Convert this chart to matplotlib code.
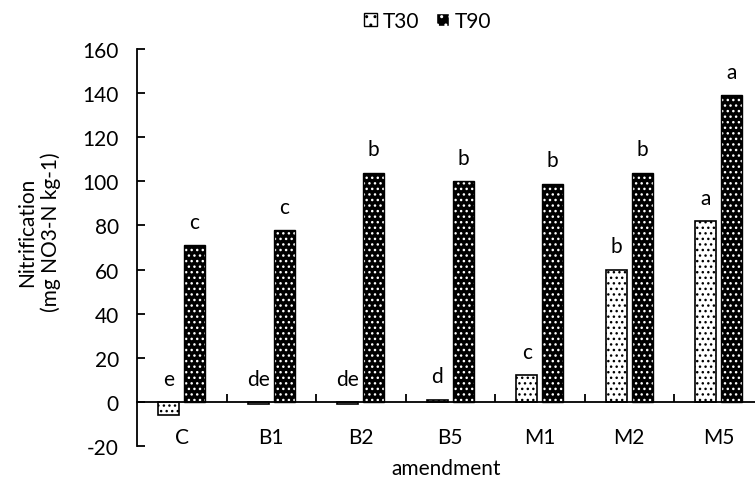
import numpy as np
import matplotlib.pyplot as plt
from matplotlib.patches import Patch

plt.rcParams['font.family'] = ['Lato', 'DejaVu Sans']
plt.rcParams['axes.unicode_minus'] = False
plt.rcParams['hatch.linewidth'] = 1.0

amend = ['C', 'B1', 'B2', 'B5', 'M1', 'M2', 'M5']
t30 = [-6, -1, -1, 1, 12, 60, 82]
t90 = [71, 78, 104, 100, 99, 104, 139]
let30 = ['e', 'de', 'de', 'd', 'c', 'b', 'a']
let90 = ['c', 'c', 'b', 'b', 'b', 'b', 'a']

fs = 15

fig = plt.figure(figsize=(7.55, 4.81), dpi=100)
ax = fig.add_axes([137/755, 34/481, 626.5/755, 397/481])

x = np.arange(len(amend))
w = 0.235
off = 0.143

# T30: white with black dots
ax.bar(x - off, t30, w, color='white', edgecolor='black', hatch='...', lw=1.2, zorder=2)
# T90: black with white dots, outline drawn separately
ax.bar(x + off, t90, w, color='black', edgecolor='white', hatch='...', lw=0, zorder=2)
ax.bar(x + off, t90, w, color='none', edgecolor='black', lw=1.0, zorder=3)

for i in range(len(amend)):
    ax.text(x[i] - off, max(t30[i], 0) + 7.8, let30[i], ha='center', va='baseline', fontsize=fs)
    ax.text(x[i] + off, max(t90[i], 0) + 7.8, let90[i], ha='center', va='baseline', fontsize=fs)

ax.set_xlim(-0.5, 6.5)
ax.set_ylim(-20, 160)
ax.set_yticks(np.arange(-20, 161, 20))
ax.set_xticks(x)
ax.set_xticklabels(amend)
ax.set_xticks(np.arange(0.5, 6.6, 1), minor=True)

ax.spines['top'].set_visible(False)
ax.spines['right'].set_visible(False)
ax.spines['bottom'].set_position(('data', 0))
ax.spines['left'].set_linewidth(1.3)
ax.spines['bottom'].set_linewidth(1.3)

ax.tick_params(axis='y', direction='in', length=6, width=1.3, pad=13, labelsize=fs)
ax.tick_params(axis='x', which='major', length=0, pad=18, labelsize=fs)
ax.tick_params(axis='x', which='minor', direction='in', length=6, width=1.3)

ax.set_ylabel('Nitrification\n(mg NO3-N kg-1)', fontsize=fs, linespacing=1.2)
ax.yaxis.set_label_coords(-0.122, 0.54)
ax.set_xlabel('amendment', fontsize=fs)
ax.xaxis.set_label_coords(0.493, -0.03)

handles = [Patch(facecolor='white', edgecolor='black', hatch='..', label='T30'),
           Patch(facecolor='black', edgecolor='white', hatch='..', label='T90')]
fig.legend(handles=handles, loc='center', bbox_to_anchor=(428/755, 1 - 22/481), ncol=2,
           frameon=False, fontsize=fs, handlelength=0.6, handleheight=0.6,
           handletextpad=0.3, columnspacing=0.8, borderpad=0)

fig.savefig('out.png', dpi=100)
